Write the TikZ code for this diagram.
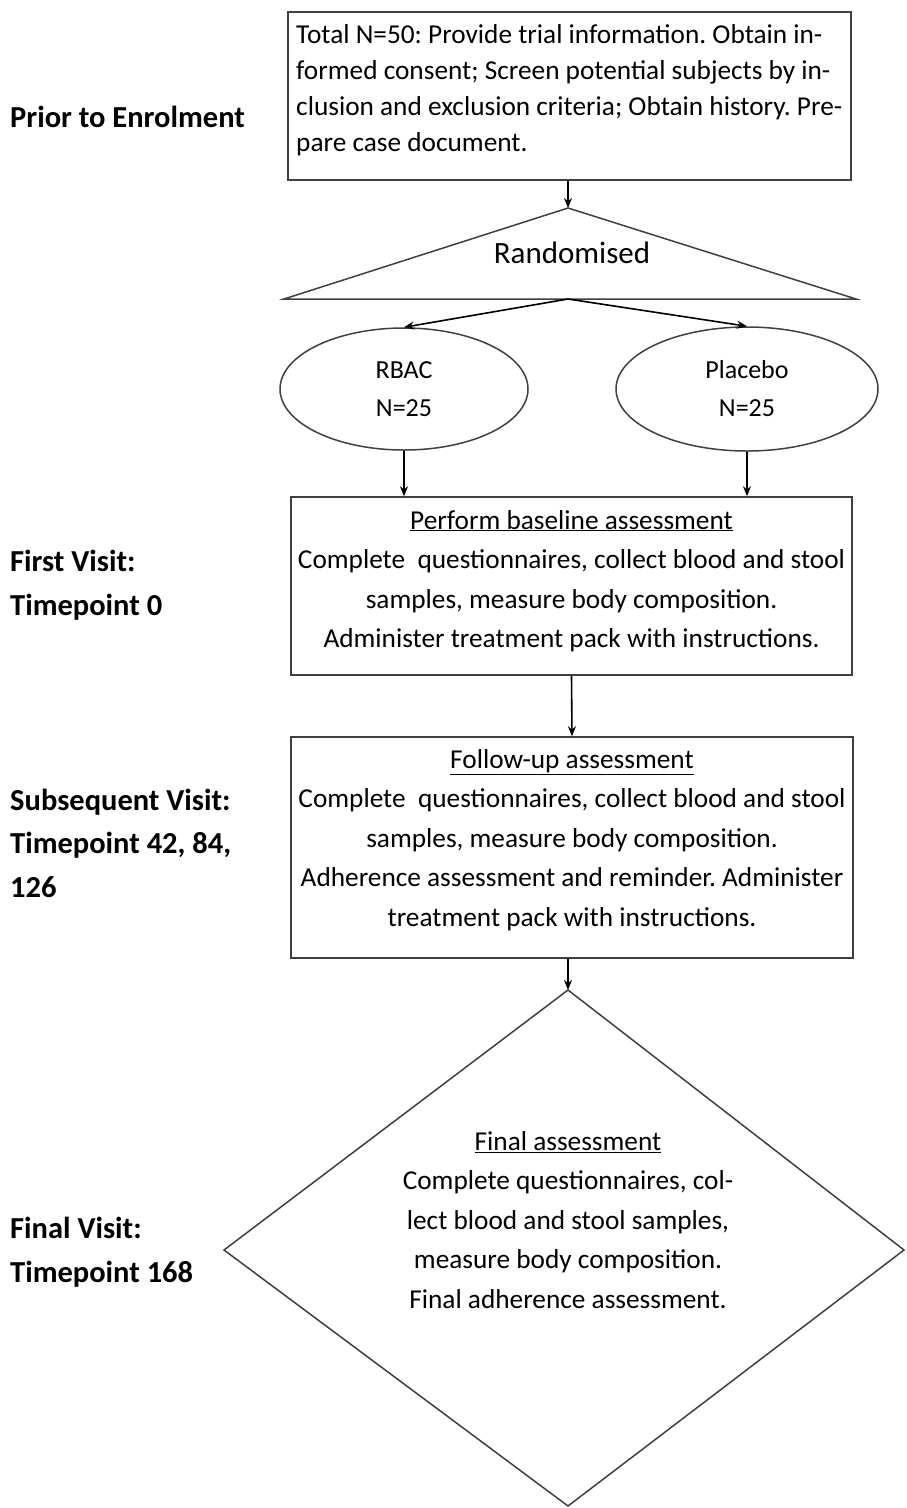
\documentclass[tikz,border=0pt]{standalone}
\usepackage{fontspec}
\setmainfont{Carlito}
\frenchspacing
\usetikzlibrary{shapes.geometric,arrows.meta}
\tikzset{
  shape line/.style = {draw=black!75, line width=1.5pt},
  stagebox/.style = {shape line, rectangle, inner sep=0pt},
  armoval/.style = {shape line, ellipse, inner sep=0pt, minimum width=248, minimum height=122, align=center,
                   font=\fontsize{26}{38}\selectfont},
  flowarrow/.style = {-{Stealth[length=10pt,width=8pt]}, line width=1.6pt},
  phase/.style = {right, inner sep=0pt, align=left, font=\bfseries\fontsize{30.5}{43.5}\selectfont},
  boxtext/.style = {inner sep=0pt, align=center, font=\fontsize{27.3}{39.5}\selectfont}
}
\begin{document}
\begin{tikzpicture}[x=1pt,y=-1pt]
	\useasboundingbox (0,0) rectangle (906,1508);
	\fill[white] (0,0) rectangle (906,1508);
	% stages on the left
	\node (prior) at (10,117) [phase] {Prior to Enrolment};
	\node (first) at (10,585) [phase] {First Visit:\\Timepoint 0};
	\node (subseq) at (10,843) [phase] {Subsequent Visit:\\Timepoint 42, 84,\\126};
	\node (final) at (10,1252) [phase] {Final Visit:\\Timepoint 168};
	% enrolment
	\node (info) at (569.5,96) [stagebox, minimum width=563, minimum height=168] {};
	\node at (296,90) [right, inner sep=0pt, align=left, font=\fontsize{27.3}{36}\selectfont] {Total N=50: Provide trial information. Obtain in-\\formed consent; Screen potential subjects by in-\\clusion and exclusion criteria; Obtain history. Pre-\\pare case document.};
	% randomisation
	\coordinate (randtop) at (568,208);
	\coordinate (randleft) at (284,299);
	\coordinate (randright) at (856,299);
	\coordinate (randbase) at (568,299);
	\draw [shape line] (randtop) -- (randright) -- (randleft) -- cycle;
	\node (rand) at (572,253) [inner sep=0pt, font=\fontsize{31}{36}\selectfont] {Randomised};
	\draw [flowarrow] (info.south -| randtop) -- (randtop);
	% arms
	\node (rbac) at (404,389) [armoval] {RBAC\\N=25};
	\node (placebo) at (747,389) [armoval, minimum width=262, minimum height=124] {Placebo\\N=25};
	\draw [flowarrow] (randbase) -- (rbac.north);
	\draw [flowarrow] (randbase) -- (placebo.north);
	% baseline
	\node (base) at (571.5,586) [stagebox, minimum width=561, minimum height=178] {};
	\node at (571.5,581) [boxtext] {\underline{Perform baseline assessment}\\Complete\ \ questionnaires, collect blood and stool\\samples, measure body composition.\\Administer treatment pack with instructions.};
	\draw [flowarrow] (rbac.south) -- (rbac.south |- base.north);
	\draw [flowarrow] (placebo.south) -- (placebo.south |- base.north);
	% follow-up
	\node (follow) at (572,847.5) [stagebox, minimum width=562, minimum height=221] {};
	\node at (572,840) [boxtext] {\underline{Follow-up assessment}\\Complete\ \ questionnaires, collect blood and stool\\samples, measure body composition.\\Adherence assessment and reminder. Administer\\treatment pack with instructions.};
	\draw [flowarrow] (base.south) -- (follow.north);
	% final
	\coordinate (fintop) at (568,990);
	\coordinate (finleft) at (224,1250);
	\coordinate (finright) at (904,1250);
	\coordinate (finbottom) at (568,1506);
	\draw [shape line] (fintop) -- (finright) -- (finbottom) -- (finleft) -- cycle;
	\node (fintext) at (568,1220) [boxtext] {\underline{Final assessment}\\Complete questionnaires, col-\\lect blood and stool samples,\\measure body composition.\\Final adherence assessment.};
	\draw [flowarrow] (follow.south -| fintop) -- (fintop);
\end{tikzpicture}
\end{document}
